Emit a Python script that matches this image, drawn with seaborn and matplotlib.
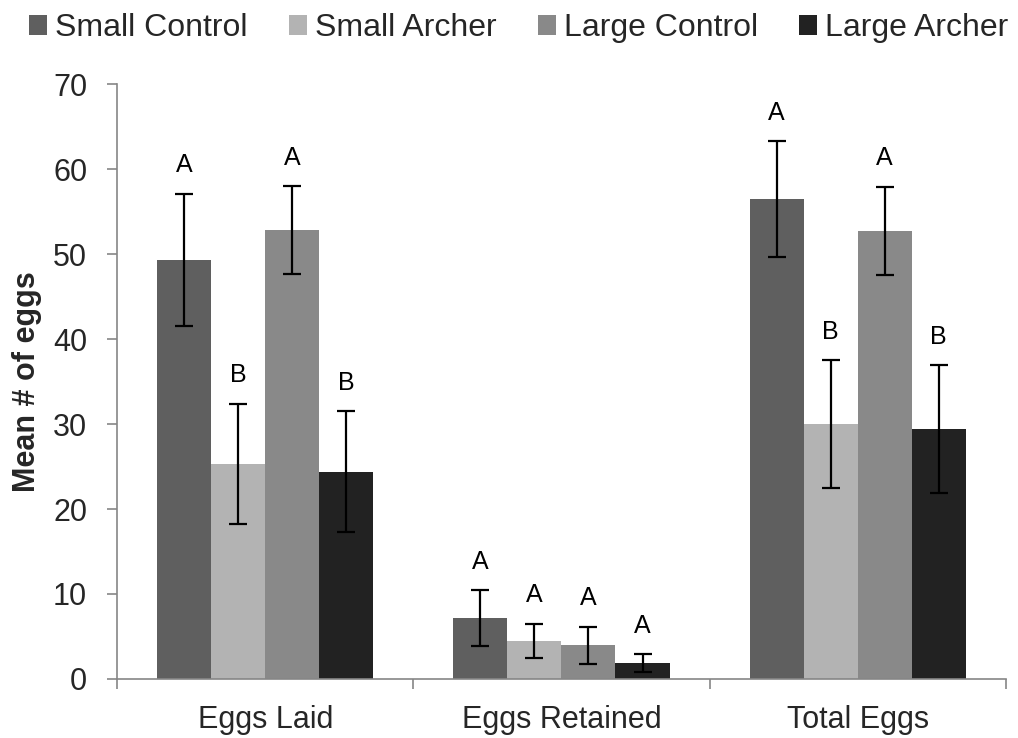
import matplotlib
matplotlib.use("Agg")
import matplotlib.pyplot as plt
from matplotlib.patches import Patch
import seaborn as sns
import pandas as pd
import numpy as np

# Measures on the x axis and the four treatment groups
measures = ["Eggs Laid", "Eggs Retained", "Total Eggs"]
groups = ["Small Control", "Small Archer", "Large Control", "Large Archer"]
colors = ["#5f5f5f", "#b3b3b3", "#898989", "#222222"]

# Mean number of eggs per group, in measure order
small_control = [49.3, 7.15, 56.5]
small_archer = [25.3, 4.5, 30.0]
large_control = [52.8, 3.95, 52.7]
large_archer = [24.4, 1.85, 29.4]

# Error bar half-widths
small_control_err = [7.8, 3.3, 6.8]
small_archer_err = [7.1, 2.0, 7.5]
large_control_err = [5.2, 2.2, 5.2]
large_archer_err = [7.1, 1.05, 7.5]

# Significance letters
small_control_sig = ["A", "A", "A"]
small_archer_sig = ["B", "A", "B"]
large_control_sig = ["A", "A", "A"]
large_archer_sig = ["B", "A", "B"]

means = [small_control, small_archer, large_control, large_archer]
errs = [small_control_err, small_archer_err, large_control_err, large_archer_err]
sigs = [small_control_sig, small_archer_sig, large_control_sig, large_archer_sig]

rows = []
for g, vals in zip(groups, means):
    for m, v in zip(measures, vals):
        rows.append({"measure": m, "group": g, "mean": v})
df = pd.DataFrame(rows)

sns.set_style("white")
plt.rcParams["font.family"] = ["Liberation Sans", "DejaVu Sans"]

fig = plt.figure(figsize=(10.18, 7.38), dpi=100)
ax = fig.add_axes([0.115, 0.080, 0.873, 0.806])

sns.barplot(data=df, x="measure", y="mean", hue="group", hue_order=groups,
            order=measures, palette=colors, saturation=1, width=0.73,
            errorbar=None, linewidth=0, legend=False, ax=ax)

# Error bars and letters, placed on each bar's centre
for cont, err, sig in zip(ax.containers, errs, sigs):
    xs = [p.get_x() + p.get_width() / 2 for p in cont.patches]
    ys = [p.get_height() for p in cont.patches]
    ax.errorbar(xs, ys, yerr=err, fmt="none", ecolor="black",
                elinewidth=1.6, capsize=6.5, capthick=1.6)
    for x, y, e, s in zip(xs, ys, err, sig):
        ax.text(x, y + e + 3.35, s, ha="center", va="center",
                fontsize=18, color="black")

ax.set_xlim(-0.5, 2.5)
ax.set_ylim(0, 70)
ax.set_yticks(np.arange(0, 71, 10))
ax.set_xlabel("")
ax.set_ylabel("Mean # of eggs", fontsize=22, fontweight="bold", labelpad=8)

for side in ["top", "right"]:
    ax.spines[side].set_visible(False)
for side in ["left", "bottom"]:
    ax.spines[side].set_color("#868686")
    ax.spines[side].set_linewidth(1.2)

ax.tick_params(axis="y", which="major", direction="out", length=7.5, width=1.2,
               color="#868686", labelsize=22, pad=14, left=True)
ax.tick_params(axis="x", which="major", length=0, labelsize=22, pad=19)
ax.set_xticks([-0.5, 0.5, 1.5, 2.5], minor=True)
ax.tick_params(axis="x", which="minor", direction="out", length=7.5, width=1.2,
               color="#868686", bottom=True)

handles = [Patch(facecolor=c, edgecolor="none", label=g) for g, c in zip(groups, colors)]
fig.legend(handles=handles, loc="upper center", bbox_to_anchor=(0.5095, 1.021),
           ncol=4, frameon=False, fontsize=23, handlelength=0.56,
           handleheight=0.56, handletextpad=0.25, columnspacing=1.29)

fig.savefig("out.png", dpi=100, facecolor="white")
